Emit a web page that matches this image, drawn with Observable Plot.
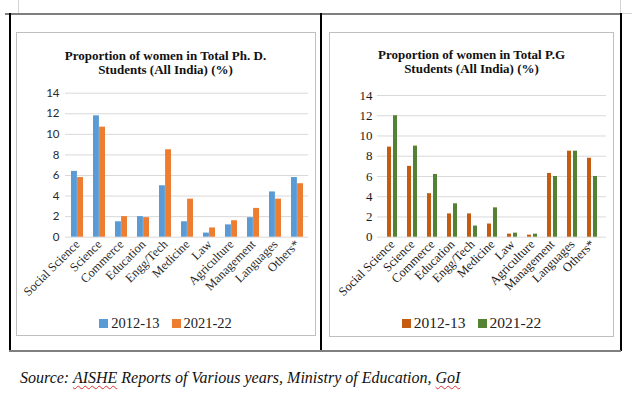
<!DOCTYPE html>
<html>
<head>
<meta charset="utf-8">
<script src="https://cdn.jsdelivr.net/npm/d3@7"></script>
<script src="https://cdn.jsdelivr.net/npm/@observablehq/plot@0.6"></script>
<style>
  html, body { margin: 0; padding: 0; background: #fff; }
  #page { position: relative; width: 632px; height: 399px; overflow: hidden; background: #fff; }
  .abs { position: absolute; }
  .title { position: absolute; font-family: "Liberation Serif", "Times New Roman", serif; font-weight: bold; font-size: 13px; line-height: 14.7px; text-align: center; color: #111; }
  .legend { position: absolute; display: flex; justify-content: center; align-items: center; font-family: "Liberation Serif", "Times New Roman", serif; color: #222; }
  .legend .sw { display: inline-block; width: 9px; height: 9px; margin-right: 3px; }
  .legend .item { display: inline-flex; align-items: center; margin: 0 6px; }
  #source { position: absolute; left: 20px; top: 369px; font-family: "Liberation Serif", "Times New Roman", serif; font-style: italic; font-size: 16px; color: #111; white-space: nowrap; }
  #source .sq { text-decoration: underline wavy #e03030; text-decoration-thickness: 1px; text-underline-offset: 2px; }
</style>
</head>
<body>
<div id="page">
  <!-- table lines -->
  <div class="abs" style="left:18px;top:0;width:1px;height:13px;background:#d4d4d4"></div>
  <div class="abs" style="left:620px;top:0;width:1px;height:13px;background:#d4d4d4"></div>
  <div class="abs" style="left:621px;top:12.5px;width:11px;height:1px;background:#d4d4d4"></div>
  <div class="abs" style="left:5px;top:12.5px;width:616px;height:2px;background:#7f7f7f"></div>
  <div class="abs" style="left:9px;top:13px;width:1.5px;height:338px;background:#000"></div>
  <div class="abs" style="left:320px;top:13px;width:1.5px;height:338px;background:#000"></div>
  <div class="abs" style="left:620px;top:13px;width:1.5px;height:338px;background:#000"></div>
  <div class="abs" style="left:9px;top:350px;width:612px;height:2px;background:#7f7f7f"></div>
  <!-- chart frames -->
  <div class="abs" style="left:16px;top:32px;width:297.5px;height:301.5px;border:1px solid #bfbfbf"></div>
  <div class="abs" style="left:328.5px;top:32px;width:283.5px;height:302.5px;border:1px solid #bfbfbf"></div>

  <div class="title" style="left:16px;top:48.5px;width:299px">Proportion of women in Total Ph. D.<br>Students (All India) (%)</div>
  <div class="title" style="left:329px;top:47.5px;width:285px">Proportion of women in Total P.G<br>Students (All India) (%)</div>

  <div id="chart1" class="abs" style="left:16px;top:85px"></div>
  <div id="chart2" class="abs" style="left:328.7px;top:85px"></div>

  <div id="legend1" class="legend" style="left:16px;top:315px;width:299px;height:16px;font-size:14.5px"></div>
  <div id="legend2" class="legend" style="left:329px;top:315px;width:285px;height:16px;font-size:15.5px"></div>

  <div id="source">Source: <span class="sq">AISHE</span> Reports of Various years, Ministry of Education, <span class="sq">GoI</span></div>
</div>
<script>
// ---- data ----
const categories = ["Social Science", "Science", "Commerce", "Education", "Engg/Tech", "Medicine", "Law", "Agriculture", "Management", "Languages", "Others*"];
const years = ["2012-13", "2021-22"];
const phd2012 = [6.4, 11.8, 1.5, 2.0, 5.0, 1.5, 0.4, 1.2, 1.9, 4.4, 5.8];
const phd2021 = [5.8, 10.7, 2.0, 1.9, 8.5, 3.7, 0.9, 1.6, 2.8, 3.7, 5.2];
const pg2012 = [8.9, 7.0, 4.3, 2.3, 2.3, 1.3, 0.3, 0.2, 6.3, 8.5, 7.8];
const pg2021 = [12.0, 9.0, 6.2, 3.3, 1.1, 2.9, 0.4, 0.3, 6.0, 8.5, 6.0];
const yTicks = [0, 2, 4, 6, 8, 10, 12, 14];

function rows(values, year) {
  return categories.map((c, i) => ({cat: c, year, v: values[i]}));
}

function chart(cfg) {
  return Plot.plot({
    width: cfg.width,
    height: cfg.height,
    marginLeft: cfg.marginLeft,
    marginRight: cfg.marginRight,
    marginTop: cfg.marginTop,
    marginBottom: cfg.marginBottom,
    style: {background: "transparent", overflow: "visible", fontFamily: cfg.font},
    x: {domain: categories, paddingInner: cfg.padIn, paddingOuter: cfg.padIn / 2, axis: null},
    y: {domain: [0, 14], axis: null},
    color: {domain: years, range: cfg.colors},
    marks: [
      Plot.ruleY(yTicks, {stroke: "#d9d9d9", strokeWidth: 1}),
      Plot.barY(rows(cfg.a, years[0]), {x: "cat", y: "v", fill: "year", insetRight: cfg.inset}),
      Plot.barY(rows(cfg.b, years[1]), {x: "cat", y: "v", fill: "year", insetLeft: cfg.inset}),
      Plot.axisY({ticks: yTicks, tickSize: 0, tickPadding: cfg.yPad, label: null, fontSize: cfg.yFont, fill: cfg.textColor, fontFamily: cfg.font}),
      Plot.axisX({tickRotate: -45, tickSize: 0, tickPadding: cfg.xPad, label: null, fontSize: cfg.xFont, fill: cfg.textColor, fontFamily: cfg.xFontFamily})
    ]
  });
}

document.getElementById("chart1").appendChild(chart({
  width: 298.5, height: 225, marginLeft: 49, marginRight: 6.2, marginTop: 7.7, marginBottom: 73.3,
  font: "Lato, 'Liberation Sans', sans-serif", xFontFamily: "'Liberation Serif', serif",
  padIn: 0.46, inset: 6.1, colors: ["#5B9BD5", "#ED7D31"],
  a: phd2012, b: phd2021, yFont: 11.5, xFont: 12.5, yPad: 6, xPad: 5, textColor: "#2a2a2a"
}));

document.getElementById("chart2").appendChild(chart({
  width: 284.3, height: 225, marginLeft: 48, marginRight: 7.3, marginTop: 10, marginBottom: 73.3,
  font: "'Liberation Serif', serif", xFontFamily: "'Liberation Serif', serif",
  padIn: 0.5, inset: 6.0, colors: ["#C55A11", "#548235"],
  a: pg2012, b: pg2021, yFont: 13, xFont: 12.5, yPad: 5, xPad: 5, textColor: "#1a1a1a"
}));

function legend(id, colors) {
  const el = document.getElementById(id);
  years.forEach((y, i) => {
    const item = document.createElement("span");
    item.className = "item";
    const sw = document.createElement("span");
    sw.className = "sw";
    sw.style.background = colors[i];
    item.appendChild(sw);
    item.appendChild(document.createTextNode(y));
    el.appendChild(item);
  });
}
legend("legend1", ["#5B9BD5", "#ED7D31"]);
legend("legend2", ["#C55A11", "#548235"]);
</script>
</body>
</html>
